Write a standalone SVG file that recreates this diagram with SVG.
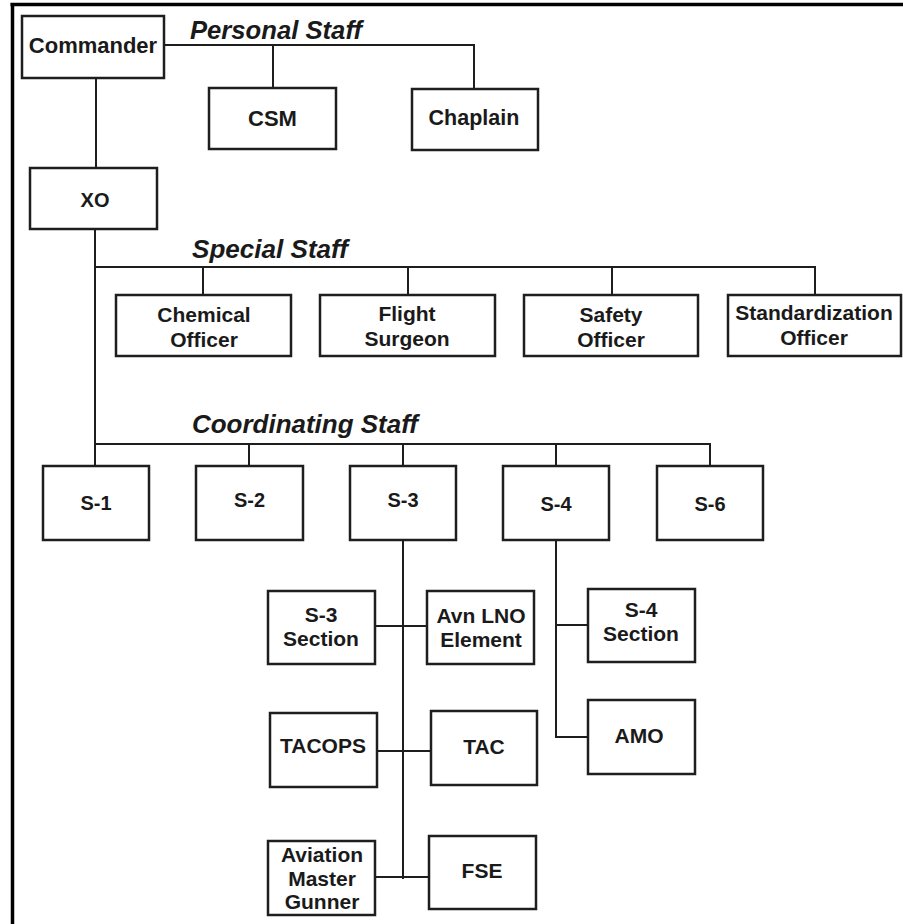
<svg xmlns="http://www.w3.org/2000/svg" width="903" height="924" viewBox="0 0 903 924">
<style>
.box{fill:#fff;stroke:#1e1e1e;stroke-width:2.5}
.t{font-family:"Liberation Sans",Arial,sans-serif;font-weight:bold;font-size:21px;fill:#1a1a1a;text-anchor:middle}
.h{font-family:"Liberation Sans",Arial,sans-serif;font-weight:bold;font-style:italic;font-size:26px;fill:#1a1a1a}
.c{fill:none;stroke:#1e1e1e;stroke-width:2}
.b{fill:none;stroke:#000;stroke-width:3.5}
</style>
<rect width="903" height="924" fill="#fff"/>
<g id="frame">
<line class="b" x1="10.5" y1="4.5" x2="903" y2="4.5"/>
<line class="b" x1="12.5" y1="3" x2="12.5" y2="924"/>
</g>
<g id="connectors">
<polyline class="c" points="164,45 474,45 474,89"/>
<line class="c" x1="273" y1="45" x2="273" y2="88"/>
<line class="c" x1="96" y1="78" x2="96" y2="168"/>
<line class="c" x1="95" y1="229" x2="95" y2="466"/>
<polyline class="c" points="95,267 815,267 815,295"/>
<line class="c" x1="203" y1="267" x2="203" y2="295"/>
<line class="c" x1="408" y1="267" x2="408" y2="295"/>
<line class="c" x1="612" y1="267" x2="612" y2="295"/>
<polyline class="c" points="95,444 710,444 710,466"/>
<line class="c" x1="249" y1="444" x2="249" y2="466"/>
<line class="c" x1="403" y1="444" x2="403" y2="466"/>
<line class="c" x1="556" y1="444" x2="556" y2="466"/>
<line class="c" x1="403" y1="540" x2="403" y2="879"/>
<line class="c" x1="375" y1="626" x2="427" y2="626"/>
<line class="c" x1="377" y1="751" x2="431" y2="751"/>
<line class="c" x1="375" y1="877" x2="429" y2="877"/>
<polyline class="c" points="556,540 556,737 588,737"/>
<line class="c" x1="556" y1="625" x2="588" y2="625"/>
</g>
<g id="labels">
<text class="h" x="190" y="39" textLength="172" lengthAdjust="spacingAndGlyphs">Personal Staff</text>
<text class="h" x="192" y="258" textLength="156" lengthAdjust="spacingAndGlyphs">Special Staff</text>
<text class="h" x="192" y="433" textLength="226" lengthAdjust="spacingAndGlyphs">Coordinating Staff</text>
</g>
<g id="commander"><rect class="box" x="22" y="16" width="142" height="62"/><text class="t" x="93" y="53" style="font-size:22px">Commander</text></g>
<g id="csm"><rect class="box" x="209" y="88" width="127" height="61"/><text class="t" x="272.5" y="126" style="font-size:22px">CSM</text></g>
<g id="chaplain"><rect class="box" x="412" y="89" width="126" height="61"/><text class="t" x="474" y="125" style="font-size:21.5px">Chaplain</text></g>
<g id="xo"><rect class="box" x="30" y="168" width="127" height="61"/><text class="t" x="95" y="207" style="font-size:20px">XO</text></g>
<g id="chemical"><rect class="box" x="116" y="295" width="175" height="61"/><text class="t" x="204" y="322">Chemical</text><text class="t" x="204" y="347">Officer</text></g>
<g id="flight"><rect class="box" x="320" y="295" width="175" height="61"/><text class="t" x="407" y="321">Flight</text><text class="t" x="407" y="346">Surgeon</text></g>
<g id="safety"><rect class="box" x="524" y="295" width="174" height="61"/><text class="t" x="611" y="322">Safety</text><text class="t" x="611" y="347">Officer</text></g>
<g id="standardization"><rect class="box" x="728" y="295" width="173" height="61"/><text class="t" x="814" y="320">Standardization</text><text class="t" x="814" y="345">Officer</text></g>
<g id="s1"><rect class="box" x="43" y="466" width="106" height="74"/><text class="t" x="96" y="510" style="font-size:20px">S-1</text></g>
<g id="s2"><rect class="box" x="196" y="466" width="107" height="74"/><text class="t" x="249.5" y="507" style="font-size:20px">S-2</text></g>
<g id="s3"><rect class="box" x="350" y="466" width="106" height="74"/><text class="t" x="403" y="507" style="font-size:20px">S-3</text></g>
<g id="s4"><rect class="box" x="503" y="466" width="106" height="74"/><text class="t" x="556" y="511" style="font-size:20px">S-4</text></g>
<g id="s6"><rect class="box" x="657" y="466" width="106" height="74"/><text class="t" x="710" y="511" style="font-size:20px">S-6</text></g>
<g id="s3section"><rect class="box" x="268" y="591" width="107" height="73"/><text class="t" x="321" y="622">S-3</text><text class="t" x="321" y="646">Section</text></g>
<g id="avnlno"><rect class="box" x="427" y="591" width="107" height="73"/><text class="t" x="481" y="623">Avn LNO</text><text class="t" x="481" y="647">Element</text></g>
<g id="s4section"><rect class="box" x="588" y="589" width="107" height="73"/><text class="t" x="641" y="617">S-4</text><text class="t" x="641" y="641">Section</text></g>
<g id="amo"><rect class="box" x="588" y="700" width="107" height="74"/><text class="t" x="639" y="743">AMO</text></g>
<g id="tacops"><rect class="box" x="270" y="713" width="107" height="74"/><text class="t" x="323" y="753">TACOPS</text></g>
<g id="tac"><rect class="box" x="431" y="711" width="106" height="74"/><text class="t" x="484" y="754">TAC</text></g>
<g id="amg"><rect class="box" x="268" y="841" width="107" height="74"/><text class="t" x="322" y="862">Aviation</text><text class="t" x="322" y="886">Master</text><text class="t" x="322" y="909">Gunner</text></g>
<g id="fse"><rect class="box" x="429" y="836" width="107" height="73"/><text class="t" x="482" y="878">FSE</text></g>
</svg>
